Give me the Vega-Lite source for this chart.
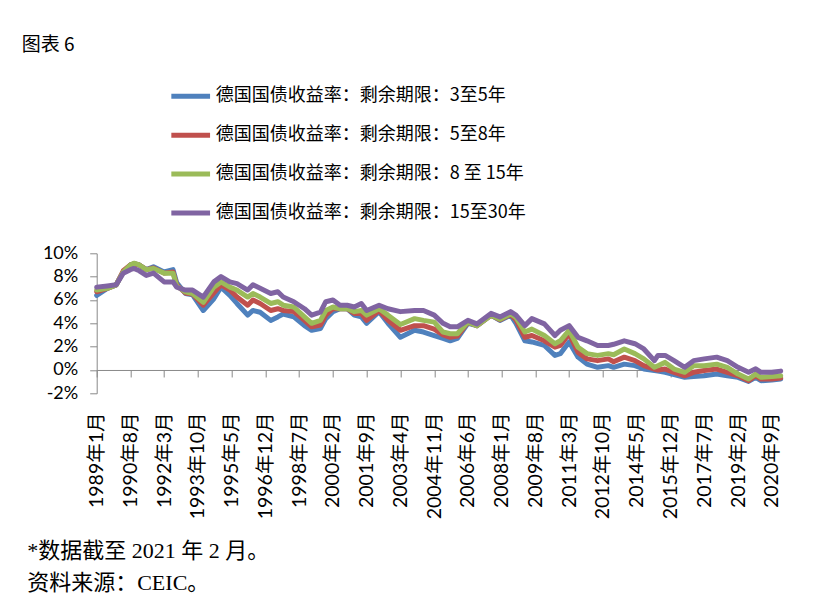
{
  "$schema": "https://vega.github.io/schema/vega-lite/v6.json",
  "autosize": {"type": "none"},
  "width": 684,
  "height": 140,
  "padding": {"left": 96.7, "top": 253.3, "right": 35.3, "bottom": 215.7},
  "background": "white",
  "title": {
    "text": "图表 6",
    "anchor": "start",
    "frame": "group",
    "dx": -75,
    "offset": 19,
    "font": "Noto Sans CJK SC",
    "fontSize": 19,
    "fontWeight": "normal",
    "color": "black"
  },
  "data": {
    "values": [
      {"d": "1989-01-01", "y3_5": 6.4, "y5_8": 6.7, "y8_15": 6.85, "y15_30": 7.1},
      {"d": "1989-07-01", "y3_5": 7.0, "y5_8": 7.0, "y8_15": 7.0, "y15_30": 7.2},
      {"d": "1989-12-01", "y3_5": 7.3, "y5_8": 7.3, "y8_15": 7.3, "y15_30": 7.3},
      {"d": "1990-04-01", "y3_5": 8.4, "y5_8": 8.5, "y8_15": 8.4, "y15_30": 8.3},
      {"d": "1990-08-01", "y3_5": 9.0, "y5_8": 9.0, "y8_15": 9.0, "y15_30": 8.6},
      {"d": "1990-10-01", "y3_5": 9.1, "y5_8": 9.1, "y8_15": 9.15, "y15_30": 8.7},
      {"d": "1991-01-01", "y3_5": 9.0, "y5_8": 9.0, "y8_15": 9.0, "y15_30": 8.5},
      {"d": "1991-05-01", "y3_5": 8.6, "y5_8": 8.6, "y8_15": 8.6, "y15_30": 8.1},
      {"d": "1991-09-01", "y3_5": 8.85, "y5_8": 8.75, "y8_15": 8.7, "y15_30": 8.3},
      {"d": "1992-03-01", "y3_5": 8.4, "y5_8": 8.3, "y8_15": 8.3, "y15_30": 7.55},
      {"d": "1992-08-01", "y3_5": 8.6, "y5_8": 8.4, "y8_15": 8.3, "y15_30": 7.55},
      {"d": "1992-10-01", "y3_5": 7.5, "y5_8": 7.3, "y8_15": 7.2, "y15_30": 7.1},
      {"d": "1993-03-01", "y3_5": 6.55, "y5_8": 6.6, "y8_15": 6.7, "y15_30": 6.85},
      {"d": "1993-07-01", "y3_5": 6.45, "y5_8": 6.5, "y8_15": 6.55, "y15_30": 6.85},
      {"d": "1994-01-01", "y3_5": 5.1, "y5_8": 5.55, "y8_15": 5.8, "y15_30": 6.25},
      {"d": "1994-07-01", "y3_5": 6.1, "y5_8": 6.6, "y8_15": 7.1, "y15_30": 7.55},
      {"d": "1994-11-01", "y3_5": 7.1, "y5_8": 7.3, "y8_15": 7.55, "y15_30": 8.0},
      {"d": "1995-04-01", "y3_5": 6.4, "y5_8": 6.85, "y8_15": 7.1, "y15_30": 7.55},
      {"d": "1995-08-01", "y3_5": 5.7, "y5_8": 6.25, "y8_15": 6.85, "y15_30": 7.4},
      {"d": "1996-02-01", "y3_5": 4.7, "y5_8": 5.55, "y8_15": 6.25, "y15_30": 6.85},
      {"d": "1996-05-01", "y3_5": 5.1, "y5_8": 6.0, "y8_15": 6.55, "y15_30": 7.3},
      {"d": "1996-09-01", "y3_5": 4.95, "y5_8": 5.7, "y8_15": 6.25, "y15_30": 7.0},
      {"d": "1997-03-01", "y3_5": 4.25, "y5_8": 5.1, "y8_15": 5.7, "y15_30": 6.55},
      {"d": "1997-07-01", "y3_5": 4.55, "y5_8": 5.25, "y8_15": 5.85, "y15_30": 6.7},
      {"d": "1997-10-01", "y3_5": 4.8, "y5_8": 5.1, "y8_15": 5.55, "y15_30": 6.25},
      {"d": "1998-04-01", "y3_5": 4.55, "y5_8": 5.0, "y8_15": 5.4, "y15_30": 5.85},
      {"d": "1998-10-01", "y3_5": 3.8, "y5_8": 4.25, "y8_15": 4.55, "y15_30": 5.25},
      {"d": "1999-02-01", "y3_5": 3.4, "y5_8": 3.7, "y8_15": 4.0, "y15_30": 4.7},
      {"d": "1999-07-01", "y3_5": 3.55, "y5_8": 3.85, "y8_15": 4.25, "y15_30": 4.95},
      {"d": "1999-10-01", "y3_5": 4.4, "y5_8": 4.7, "y8_15": 5.1, "y15_30": 5.85},
      {"d": "2000-02-01", "y3_5": 5.0, "y5_8": 5.25, "y8_15": 5.4, "y15_30": 6.0},
      {"d": "2000-06-01", "y3_5": 5.25, "y5_8": 5.25, "y8_15": 5.25, "y15_30": 5.55},
      {"d": "2000-10-01", "y3_5": 5.25, "y5_8": 5.25, "y8_15": 5.25, "y15_30": 5.55},
      {"d": "2001-02-01", "y3_5": 4.7, "y5_8": 4.85, "y8_15": 5.0, "y15_30": 5.4},
      {"d": "2001-06-01", "y3_5": 4.55, "y5_8": 4.85, "y8_15": 5.1, "y15_30": 5.7},
      {"d": "2001-09-01", "y3_5": 4.0, "y5_8": 4.25, "y8_15": 4.7, "y15_30": 5.1},
      {"d": "2002-04-01", "y3_5": 5.0, "y5_8": 5.1, "y8_15": 5.25, "y15_30": 5.55},
      {"d": "2002-09-01", "y3_5": 4.0, "y5_8": 4.25, "y8_15": 4.7, "y15_30": 5.25},
      {"d": "2003-04-01", "y3_5": 2.8, "y5_8": 3.4, "y8_15": 3.9, "y15_30": 5.0},
      {"d": "2003-12-01", "y3_5": 3.4, "y5_8": 3.8, "y8_15": 4.4, "y15_30": 5.1},
      {"d": "2004-05-01", "y3_5": 3.25, "y5_8": 3.8, "y8_15": 4.25, "y15_30": 5.1},
      {"d": "2004-11-01", "y3_5": 2.95, "y5_8": 3.5, "y8_15": 4.1, "y15_30": 4.7},
      {"d": "2005-04-01", "y3_5": 2.7, "y5_8": 3.0, "y8_15": 3.25, "y15_30": 4.0},
      {"d": "2005-08-01", "y3_5": 2.5, "y5_8": 2.8, "y8_15": 3.1, "y15_30": 3.7},
      {"d": "2005-12-01", "y3_5": 2.7, "y5_8": 2.9, "y8_15": 3.1, "y15_30": 3.7},
      {"d": "2006-06-01", "y3_5": 4.0, "y5_8": 4.1, "y8_15": 4.1, "y15_30": 4.25},
      {"d": "2006-11-01", "y3_5": 3.8, "y5_8": 3.8, "y8_15": 3.8, "y15_30": 3.95},
      {"d": "2007-07-01", "y3_5": 4.7, "y5_8": 4.7, "y8_15": 4.7, "y15_30": 4.85},
      {"d": "2007-12-01", "y3_5": 4.25, "y5_8": 4.3, "y8_15": 4.35, "y15_30": 4.55},
      {"d": "2008-06-01", "y3_5": 4.7, "y5_8": 4.75, "y8_15": 4.8, "y15_30": 5.0},
      {"d": "2008-09-01", "y3_5": 4.0, "y5_8": 4.3, "y8_15": 4.5, "y15_30": 4.7},
      {"d": "2009-02-01", "y3_5": 2.5, "y5_8": 2.8, "y8_15": 3.25, "y15_30": 3.8},
      {"d": "2009-06-01", "y3_5": 2.4, "y5_8": 2.95, "y8_15": 3.5, "y15_30": 4.4},
      {"d": "2010-01-01", "y3_5": 2.1, "y5_8": 2.5, "y8_15": 2.95, "y15_30": 3.95},
      {"d": "2010-07-01", "y3_5": 1.25, "y5_8": 1.95, "y8_15": 2.25, "y15_30": 2.95},
      {"d": "2010-10-01", "y3_5": 1.4, "y5_8": 2.1, "y8_15": 2.5, "y15_30": 3.4},
      {"d": "2011-03-01", "y3_5": 2.4, "y5_8": 3.1, "y8_15": 3.4, "y15_30": 3.8},
      {"d": "2011-08-01", "y3_5": 1.1, "y5_8": 1.5, "y8_15": 1.95, "y15_30": 2.8},
      {"d": "2012-01-01", "y3_5": 0.5, "y5_8": 0.95, "y8_15": 1.4, "y15_30": 2.5},
      {"d": "2012-07-01", "y3_5": 0.23, "y5_8": 0.8, "y8_15": 1.25, "y15_30": 2.1},
      {"d": "2013-01-01", "y3_5": 0.37, "y5_8": 0.95, "y8_15": 1.4, "y15_30": 2.1},
      {"d": "2013-04-01", "y3_5": 0.23, "y5_8": 0.7, "y8_15": 1.3, "y15_30": 2.2},
      {"d": "2013-10-01", "y3_5": 0.5, "y5_8": 1.1, "y8_15": 1.8, "y15_30": 2.5},
      {"d": "2014-04-01", "y3_5": 0.37, "y5_8": 0.8, "y8_15": 1.4, "y15_30": 2.25},
      {"d": "2014-09-01", "y3_5": 0.08, "y5_8": 0.37, "y8_15": 0.95, "y15_30": 1.8},
      {"d": "2015-03-01", "y3_5": -0.05, "y5_8": 0.08, "y8_15": 0.23, "y15_30": 0.8},
      {"d": "2015-05-01", "y3_5": -0.1, "y5_8": 0.0, "y8_15": 0.37, "y15_30": 1.25},
      {"d": "2015-09-01", "y3_5": -0.2, "y5_8": 0.08, "y8_15": 0.65, "y15_30": 1.25},
      {"d": "2016-02-01", "y3_5": -0.4, "y5_8": -0.2, "y8_15": 0.08, "y15_30": 0.8},
      {"d": "2016-08-01", "y3_5": -0.63, "y5_8": -0.5, "y8_15": -0.2, "y15_30": 0.23},
      {"d": "2017-01-01", "y3_5": -0.57, "y5_8": -0.2, "y8_15": 0.37, "y15_30": 0.8},
      {"d": "2017-07-01", "y3_5": -0.5, "y5_8": -0.05, "y8_15": 0.37, "y15_30": 0.95},
      {"d": "2018-02-01", "y3_5": -0.35, "y5_8": 0.08, "y8_15": 0.5, "y15_30": 1.1},
      {"d": "2018-08-01", "y3_5": -0.5, "y5_8": -0.2, "y8_15": 0.23, "y15_30": 0.8},
      {"d": "2019-02-01", "y3_5": -0.63, "y5_8": -0.5, "y8_15": -0.35, "y15_30": 0.23},
      {"d": "2019-08-01", "y3_5": -0.98, "y5_8": -0.92, "y8_15": -0.78, "y15_30": -0.2},
      {"d": "2019-12-01", "y3_5": -0.63, "y5_8": -0.5, "y8_15": -0.35, "y15_30": 0.1},
      {"d": "2020-03-01", "y3_5": -0.92, "y5_8": -0.78, "y8_15": -0.63, "y15_30": -0.2},
      {"d": "2020-09-01", "y3_5": -0.86, "y5_8": -0.78, "y8_15": -0.57, "y15_30": -0.2},
      {"d": "2021-02-01", "y3_5": -0.78, "y5_8": -0.7, "y8_15": -0.5, "y15_30": -0.1}
    ]
  },
  "transform": [
    {"fold": ["y3_5", "y5_8", "y8_15", "y15_30"], "as": ["series", "rate"]}
  ],
  "mark": {"type": "line", "strokeWidth": 5, "strokeCap": "round", "strokeJoin": "round"},
  "encoding": {
    "x": {
      "field": "d",
      "type": "temporal",
      "scale": {
        "type": "utc",
        "domain": [
          {"year": 1989, "month": 1, "date": 1, "utc": true},
          {"year": 2021, "month": 2, "date": 1, "utc": true}
        ]
      },
      "axis": {
        "title": ["*数据截至 2021 年 2 月。", "资料来源：CEIC。"],
        "titleFont": "Liberation Serif, Noto Sans CJK SC",
        "titleFontSize": 22,
        "titleFontWeight": "normal",
        "titleColor": "black",
        "titleAlign": "left",
        "titleAnchor": "start",
        "titleBaseline": "alphabetic",
        "titleAngle": 0,
        "titleX": -70,
        "titleY": 188,
        "titleLineHeight": 32,
        "offset": -23.33,
        "values": [
          {"year": 1989, "month": 1, "date": 1, "utc": true},
          {"year": 1990, "month": 8, "date": 1, "utc": true},
          {"year": 1992, "month": 3, "date": 1, "utc": true},
          {"year": 1993, "month": 10, "date": 1, "utc": true},
          {"year": 1995, "month": 5, "date": 1, "utc": true},
          {"year": 1996, "month": 12, "date": 1, "utc": true},
          {"year": 1998, "month": 7, "date": 1, "utc": true},
          {"year": 2000, "month": 2, "date": 1, "utc": true},
          {"year": 2001, "month": 9, "date": 1, "utc": true},
          {"year": 2003, "month": 4, "date": 1, "utc": true},
          {"year": 2004, "month": 11, "date": 1, "utc": true},
          {"year": 2006, "month": 6, "date": 1, "utc": true},
          {"year": 2008, "month": 1, "date": 1, "utc": true},
          {"year": 2009, "month": 8, "date": 1, "utc": true},
          {"year": 2011, "month": 3, "date": 1, "utc": true},
          {"year": 2012, "month": 10, "date": 1, "utc": true},
          {"year": 2014, "month": 5, "date": 1, "utc": true},
          {"year": 2015, "month": 12, "date": 1, "utc": true},
          {"year": 2017, "month": 7, "date": 1, "utc": true},
          {"year": 2019, "month": 2, "date": 1, "utc": true},
          {"year": 2020, "month": 9, "date": 1, "utc": true}
        ],
        "labelExpr": "utcFormat(datum.value, '%Y') + '年' + (utcmonth(datum.value) + 1) + '月'",
        "labelAngle": -90,
        "labelAlign": "right",
        "labelBaseline": "middle",
        "labelFont": "Lato, Noto Sans CJK SC",
        "labelFontSize": 19.5,
        "labelColor": "black",
        "labelPadding": 35,
        "labelOverlap": false,
        "labelFlush": false,
        "tickSize": 7,
        "tickColor": "#898989",
        "domainColor": "#898989",
        "grid": false
      }
    },
    "y": {
      "field": "rate",
      "type": "quantitative",
      "scale": {"domain": [-2, 10], "nice": false},
      "axis": {
        "title": null,
        "values": [-2, 0, 2, 4, 6, 8, 10],
        "labelExpr": "datum.value + '%'",
        "labelFont": "Lato",
        "labelFontSize": 18,
        "labelColor": "black",
        "labelPadding": 12,
        "tickSize": 7,
        "tickColor": "#898989",
        "domainColor": "#898989",
        "grid": false
      }
    },
    "color": {
      "field": "series",
      "type": "nominal",
      "scale": {
        "domain": ["y3_5", "y5_8", "y8_15", "y15_30"],
        "range": ["#4F81BD", "#C0504D", "#9BBB59", "#8064A2"]
      },
      "legend": {
        "title": null,
        "orient": "none",
        "legendX": 72,
        "legendY": -179,
        "direction": "vertical",
        "padding": 0,
        "rowPadding": 6.9,
        "symbolType": "stroke",
        "symbolSize": 1500,
        "symbolStrokeWidth": 5,
        "labelOffset": 3,
        "labelFont": "Noto Sans CJK SC",
        "labelFontSize": 18,
        "labelColor": "black",
        "labelLimit": 400,
        "labelExpr": "{'y3_5': '德国国债收益率：剩余期限：3至5年', 'y5_8': '德国国债收益率：剩余期限：5至8年', 'y8_15': '德国国债收益率：剩余期限：8 至 15年', 'y15_30': '德国国债收益率：剩余期限：15至30年'}[datum.value]"
      }
    }
  },
  "config": {
    "view": {"stroke": null}
  }
}
